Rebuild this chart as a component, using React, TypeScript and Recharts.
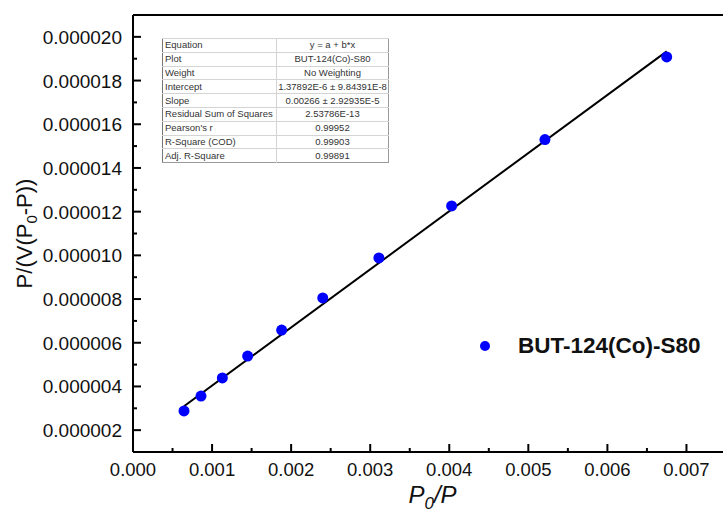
import { ScatterChart, Scatter, XAxis, YAxis, ReferenceLine } from 'recharts'

// measured points, P0/P vs P/(V(P0-P))
const pointX = [0.000645, 0.00086, 0.00113, 0.00145, 0.00188, 0.0024, 0.00311, 0.00403, 0.00521, 0.00675]
const pointY = [2.88e-6, 3.56e-6, 4.39e-6, 5.39e-6, 6.58e-6, 8.05e-6, 9.88e-6, 12.26e-6, 15.3e-6, 19.08e-6]

// linear fit y = a + b*x (from the Origin table)
const intercept = 1.37892e-6
const slope = 0.00266

const xTicks = [0, 0.0005, 0.001, 0.0015, 0.002, 0.0025, 0.003, 0.0035, 0.004, 0.0045, 0.005, 0.0055, 0.006, 0.0065, 0.007, 0.0075]
const yTicks = [
  1e-6, 2e-6, 3e-6, 4e-6, 5e-6, 6e-6, 7e-6, 8e-6, 9e-6, 10e-6,
  11e-6, 12e-6, 13e-6, 14e-6, 15e-6, 16e-6, 17e-6, 18e-6, 19e-6, 20e-6,
]

const tableLabels = [
  'Equation', 'Plot', 'Weight', 'Intercept', 'Slope',
  'Residual Sum of Squares', "Pearson's r", 'R-Square (COD)', 'Adj. R-Square',
]
const tableValues = [
  'y = a + b*x', 'BUT-124(Co)-S80', 'No Weighting', '1.37892E-6 ± 9.84391E-8', '0.00266 ± 2.92935E-5',
  '2.53786E-13', '0.99952', '0.99903', '0.99891',
]

const seriesName = 'BUT-124(Co)-S80'

const FONT = '"Liberation Sans", Arial, sans-serif'
const BLUE = '#0000ff'
const Y_GAP = 11
const X_GAP = 8

const points = pointX.map((x, i) => ({ x, y: pointY[i] }))
const fitEnds = [Math.min(...pointX), Math.max(...pointX)]
const fitLine = fitEnds.map((x) => ({ x, y: intercept + slope * x }))

function YTick(props: any) {
  const { x, y, payload } = props
  const axisX = x + Y_GAP
  const major = Math.round(payload.value * 1e6) % 2 === 0
  return (
    <g>
      <line x1={axisX} x2={axisX + (major ? 8 : 4)} y1={y} y2={y} stroke="#000" strokeWidth={2} />
      {major && (
        <text x={x} y={y} dy={7} textAnchor="end" fontSize={19} fontFamily={FONT} fill="#111">
          {payload.value.toFixed(6)}
        </text>
      )}
    </g>
  )
}

function XTick(props: any) {
  const { x, y, payload } = props
  const axisY = y - X_GAP
  const major = Math.round(payload.value * 1e4) % 10 === 0
  return (
    <g>
      <line x1={x} x2={x} y1={axisY} y2={axisY - (major ? 8 : 4)} stroke="#000" strokeWidth={2} />
      {major && (
        <text x={x} y={y} dy={16} textAnchor="middle" fontSize={18.5} fontFamily={FONT} fill="#111">
          {payload.value.toFixed(3)}
        </text>
      )}
    </g>
  )
}

function YTitle(props: any) {
  const { viewBox } = props
  const cx = 24
  const cy = viewBox.y + viewBox.height / 2
  return (
    <text
      x={cx}
      y={cy}
      dy={8}
      transform={`rotate(-90, ${cx}, ${cy})`}
      textAnchor="middle"
      fontSize={22}
      fontFamily={FONT}
      fill="#111"
    >
      P/(V(P<tspan dy={5} fontSize={15}>0</tspan>
      <tspan dy={-5}>-P))</tspan>
    </text>
  )
}

function XTitle(props: any) {
  const { viewBox } = props
  const cx = viewBox.x + viewBox.width / 2 + 3
  return (
    <text x={cx} y={viewBox.y + 51} textAnchor="middle" fontSize={24} fontStyle="italic" fontFamily={FONT} fill="#111">
      P<tspan dy={6} fontSize={17}>0</tspan>
      <tspan dy={-6}>/P</tspan>
    </text>
  )
}

function LegendBox() {
  return (
    <div
      style={{
        position: 'absolute',
        left: 478,
        top: 332,
        display: 'flex',
        alignItems: 'center',
        height: 28,
        fontFamily: FONT,
      }}
    >
      <svg width={14} height={14}>
        <circle cx={7} cy={7} r={5} fill={BLUE} />
      </svg>
      <span style={{ marginLeft: 26, fontSize: 22.5, fontWeight: 'bold', color: '#111', whiteSpace: 'nowrap' }}>
        {seriesName}
      </span>
    </div>
  )
}

function FitTable() {
  const cell = {
    height: 12.8,
    padding: 0,
    lineHeight: '12px',
    borderTop: '1px solid #d4d4d4',
    whiteSpace: 'nowrap' as const,
    overflow: 'hidden',
  }
  return (
    <table
      style={{
        position: 'absolute',
        left: 162,
        top: 38,
        width: 227,
        borderCollapse: 'collapse',
        tableLayout: 'fixed',
        fontFamily: FONT,
        fontSize: 9.5,
        color: '#333',
        background: '#fff',
        border: '1px solid #9a9a9a',
        borderLeft: '1px solid #777',
      }}
    >
      <tbody>
        {tableLabels.map((label, i) => (
          <tr key={label}>
            <td style={{ ...cell, width: 111, paddingLeft: 2, borderRight: '1px solid #d4d4d4' }}>{label}</td>
            <td style={{ ...cell, textAlign: 'center' }}>{tableValues[i]}</td>
          </tr>
        ))}
      </tbody>
    </table>
  )
}

export default function App() {
  return (
    <div style={{ position: 'fixed', left: 0, top: 0, width: 723, height: 520, overflow: 'hidden', background: '#fff' }}>
      <ScatterChart width={740} height={520} margin={{ top: 15, right: 14, bottom: 0, left: 0 }}>
        <XAxis
          type="number"
          dataKey="x"
          domain={[0, 0.0075]}
          ticks={xTicks}
          interval={0}
          allowDataOverflow
          height={68}
          tickSize={0}
          tickMargin={X_GAP}
          tickLine={false}
          axisLine={{ stroke: '#000', strokeWidth: 2 }}
          tick={(p: any) => <XTick {...p} />}
          label={{ content: (p: any) => <XTitle {...p} /> }}
        />
        <YAxis
          type="number"
          dataKey="y"
          domain={[1e-6, 21e-6]}
          ticks={yTicks}
          interval={0}
          allowDataOverflow
          width={133}
          tickSize={0}
          tickMargin={Y_GAP}
          tickLine={false}
          axisLine={{ stroke: '#000', strokeWidth: 2 }}
          tick={(p: any) => <YTick {...p} />}
          label={{ content: (p: any) => <YTitle {...p} /> }}
        />
        <ReferenceLine y={21e-6} stroke="#000" strokeWidth={2} />
        <Scatter
          name="fit"
          data={fitLine}
          line={{ stroke: '#000', strokeWidth: 2 }}
          shape={() => <g />}
          isAnimationActive={false}
        />
        <Scatter
          name={seriesName}
          data={points}
          fill={BLUE}
          shape={(p: any) => <circle cx={p.cx} cy={p.cy} r={5.5} fill={BLUE} />}
          isAnimationActive={false}
        />
      </ScatterChart>
      <FitTable />
      <LegendBox />
    </div>
  )
}
